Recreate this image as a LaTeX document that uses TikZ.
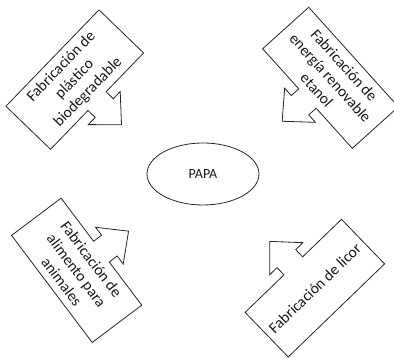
\documentclass[tikz,border=0pt]{standalone}
\usepackage{fontspec}
\setmainfont{Carlito}
\begin{document}
\begin{tikzpicture}[x=1pt,y=1pt,
  outline/.style={draw=black!85, line width=0.8pt, fill=white, line join=miter},
  calltext/.style={font=\fontsize{15.5}{18.5}\selectfont, align=center, text=black!90, inner sep=0pt},
  centertext/.style={font=\fontsize{14}{17}\selectfont, text=black!90},
  arrowup/.style={yscale=-1}]
\useasboundingbox (0,0) rectangle (394,358);
\fill[white] (0,0) rectangle (394,358);

% centre ellipse
\draw[outline] (203,184) ellipse [x radius=56, y radius=31];
\node[centertext] (papa) at (203,184) {PAPA};

% top left
\begin{scope}[shift={(74.75,278.4)}, rotate=46]
  \draw[outline] (-67,31) -- (67,31) -- (67,-31) -- (13,-31) -- (13,-41) -- (23,-41) -- (0,-65) -- (-23,-41) -- (-13,-41) -- (-13,-31) -- (-67,-31) -- cycle;
  \node[calltext, rotate=46] (plastico) at (0,0) {Fabricación de\\plástico\\biodegradable};
\end{scope}

% top right
\begin{scope}[shift={(330.5,280.2)}, rotate=-48]
  \draw[outline] (-67,31) -- (67,31) -- (67,-31) -- (13,-31) -- (13,-41) -- (23,-41) -- (0,-65) -- (-23,-41) -- (-13,-41) -- (-13,-31) -- (-67,-31) -- cycle;
  \node[calltext, rotate=-48] (etanol) at (0,0) {Fabricación de\\energía renovable\\etanol};
\end{scope}

% bottom left
\begin{scope}[shift={(76.65,87.7)}, rotate=-53]
  \draw[outline, arrowup] (-67,31) -- (67,31) -- (67,-31) -- (13,-31) -- (13,-41) -- (23,-41) -- (0,-65) -- (-23,-41) -- (-13,-41) -- (-13,-31) -- (-67,-31) -- cycle;
  \node[calltext, rotate=-53] (alimento) at (0,0) {Fabricación de\\alimento para\\animales};
\end{scope}

% bottom right
\begin{scope}[shift={(314.85,69.85)}, rotate=44]
  \draw[outline, arrowup] (-67,31) -- (67,31) -- (67,-31) -- (13,-31) -- (13,-41) -- (23,-41) -- (0,-65) -- (-23,-41) -- (-13,-41) -- (-13,-31) -- (-67,-31) -- cycle;
  \node[calltext, rotate=44] (licor) at (0,0) {Fabricación de licor};
\end{scope}
\end{tikzpicture}
\end{document}
